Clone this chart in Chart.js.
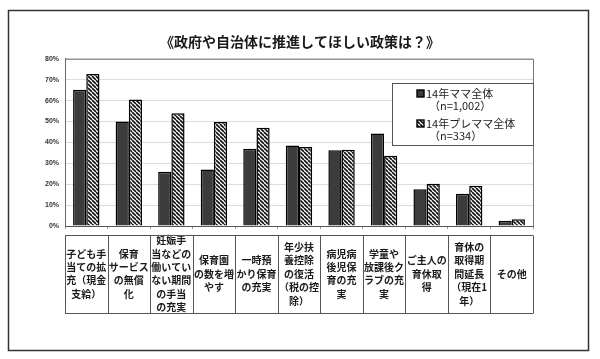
<!DOCTYPE html>
<html>
<head>
<meta charset="utf-8">
<script src="https://cdn.jsdelivr.net/npm/chart.js@4/dist/chart.umd.min.js"></script>
<style>
html,body{margin:0;padding:0;background:#fff;}
canvas{display:block;}
</style>
</head>
<body>
<canvas id="c" width="600" height="359"></canvas>
<script>
const titleText = '《政府や自治体に推進してほしい政策は？》';
const categories = [
  ['子ども手', '当ての拡', '充（現金', '支給）'],
  ['保育', 'サービス', 'の無償', '化'],
  ['妊娠手', '当などの', '働いてい', 'ない期間', 'の手当', 'の充実'],
  ['保育園', 'の数を増', 'やす'],
  ['一時預', 'かり保育', 'の充実'],
  ['年少扶', '養控除', 'の復活', '（税の控', '除）'],
  ['病児病', '後児保', '育の充', '実'],
  ['学童や', '放課後ク', 'ラブの充', '実'],
  ['ご主人の', '育休取', '得'],
  ['育休の', '取得期', '間延長', '（現在1', '年）'],
  ['その他']
];
const seriesNames = ['14年ママ全体', '14年プレママ全体'];
const seriesSamples = ['（n=1,002）', '（n=334）'];
const mama14 = [65.2, 50.0, 26.0, 27.0, 37.0, 38.5, 36.2, 44.2, 17.6, 15.4, 2.5];
const premama14 = [72.7, 60.5, 54.0, 49.8, 47.0, 37.8, 36.5, 33.6, 20.2, 19.2, 3.2];
const yTicks = [0, 10, 20, 30, 40, 50, 60, 70, 80];

const JP = "'Noto Sans CJK JP', 'Noto Sans', sans-serif";

function makeHatch() {
  const s = 4;
  const c = document.createElement('canvas');
  c.width = s; c.height = s;
  const g = c.getContext('2d');
  g.fillStyle = '#fff';
  g.fillRect(0, 0, s, s);
  g.strokeStyle = '#111';
  g.lineWidth = 1.6;
  for (let k = -1; k <= 1; k++) {
    g.beginPath();
    g.moveTo(k * s, 0);
    g.lineTo(k * s + s, s);
    g.stroke();
  }
  return g.createPattern(c, 'repeat');
}

const framePlugin = {
  id: 'frame',
  beforeDraw(chart) {
    const ctx = chart.ctx;
    ctx.save();
    ctx.fillStyle = '#fff';
    ctx.fillRect(0, 0, chart.width, chart.height);
    ctx.strokeStyle = '#333';
    ctx.lineWidth = 1.5;
    ctx.strokeRect(8.5, 10.5, 580, 340);
    ctx.restore();
  },
  afterDraw(chart) {
    const ctx = chart.ctx;
    const a = chart.chartArea;
    const xs = chart.scales.x;
    ctx.save();
    // plot border (top/right)
    ctx.strokeStyle = '#777';
    ctx.lineWidth = 1;
    ctx.beginPath();
    ctx.moveTo(a.left, a.top + 0.5);
    ctx.lineTo(a.right + 0.5, a.top + 0.5);
    ctx.lineTo(a.right + 0.5, a.bottom);
    ctx.stroke();
    // category table
    const n = categories.length;
    const top = a.bottom + 9.5, bot = a.bottom + 87.5;
    ctx.strokeStyle = '#555';
    ctx.lineWidth = 1;
    ctx.beginPath();
    ctx.moveTo(xs.getPixelForValue(-0.5), top);
    ctx.lineTo(xs.getPixelForValue(n - 0.5), top);
    ctx.moveTo(xs.getPixelForValue(-0.5), bot);
    ctx.lineTo(xs.getPixelForValue(n - 0.5), bot);
    for (let i = 0; i <= n; i++) {
      const x = Math.round(xs.getPixelForValue(i - 0.5)) + 0.5;
      ctx.moveTo(x, top);
      ctx.lineTo(x, bot);
    }
    ctx.stroke();
    // legend box
    const lx = 392.5, ly = 83.5, lw = 141, lh = 62;
    ctx.fillStyle = '#fff';
    ctx.fillRect(lx, ly, lw, lh);
    ctx.strokeStyle = '#555';
    ctx.strokeRect(lx, ly, lw, lh);
    ctx.font = '11px ' + JP;
    ctx.textBaseline = 'middle';
    ctx.textAlign = 'left';
    chart.data.datasets.forEach((ds, i) => {
      const y = 93.5 + i * 30;
      ctx.fillStyle = ds.backgroundColor;
      ctx.fillRect(417, y - 3.5, 7, 7);
      ctx.strokeStyle = '#000';
      ctx.lineWidth = 1.4;
      ctx.strokeRect(417, y - 3.5, 7, 7);
      ctx.fillStyle = '#222';
      ctx.fillText(seriesNames[i], 426, y);
      ctx.fillText(seriesSamples[i], 429, y + 12);
    });
    ctx.restore();
  }
};

const ctx = document.getElementById('c').getContext('2d');
new Chart(ctx, {
  type: 'bar',
  data: {
    labels: categories,
    datasets: [
      { label: seriesNames[0], data: mama14, backgroundColor: '#3a3d3c', borderColor: '#000', borderWidth: 1.5 },
      { label: seriesNames[1], data: premama14, backgroundColor: makeHatch(), borderColor: '#000', borderWidth: 1.5 }
    ]
  },
  options: {
    responsive: false,
    animation: false,
    devicePixelRatio: 1,
    layout: { padding: 0 },
    datasets: { bar: { categoryPercentage: 0.62, barPercentage: 1.0 } },
    plugins: {
      legend: { display: false },
      tooltip: { enabled: false },
      title: {
        display: true,
        text: titleText,
        color: '#1a1a1a',
        font: { family: JP, size: 14, weight: 'bold' },
        padding: { top: 33, bottom: 9 }
      }
    },
    scales: {
      x: {
        offset: true,
        grid: { offset: true, drawOnChartArea: false, tickLength: 3, color: '#999' },
        border: { color: '#555', width: 1 },
        ticks: {
          autoSkip: false, maxRotation: 0, minRotation: 0,
          crossAlign: 'center',
          padding: 11.5,
          color: '#1a1a1a',
          font: { family: JP, size: 10, weight: 'bold', lineHeight: 1.34 }
        },
        afterFit(s) { s.height = 133; }
      },
      y: {
        min: 0, max: 80,
        afterBuildTicks(s) { s.ticks = yTicks.map(v => ({ value: v })); },
        grid: { color: '#dcdcdc', drawTicks: false },
        border: { color: '#666', width: 1 },
        ticks: {
          padding: 6,
          color: '#333',
          font: { family: "'Liberation Sans', sans-serif", size: 7, weight: 'bold' },
          callback: v => v + '%'
        },
        afterFit(s) { s.width = 65; }
      },
      yRight: {
        position: 'right',
        min: 0, max: 80,
        grid: { display: false, drawTicks: false },
        border: { display: false },
        ticks: { display: false },
        afterFit(s) { s.width = 67; }
      }
    }
  },
  plugins: [framePlugin]
});
</script>
</body>
</html>
